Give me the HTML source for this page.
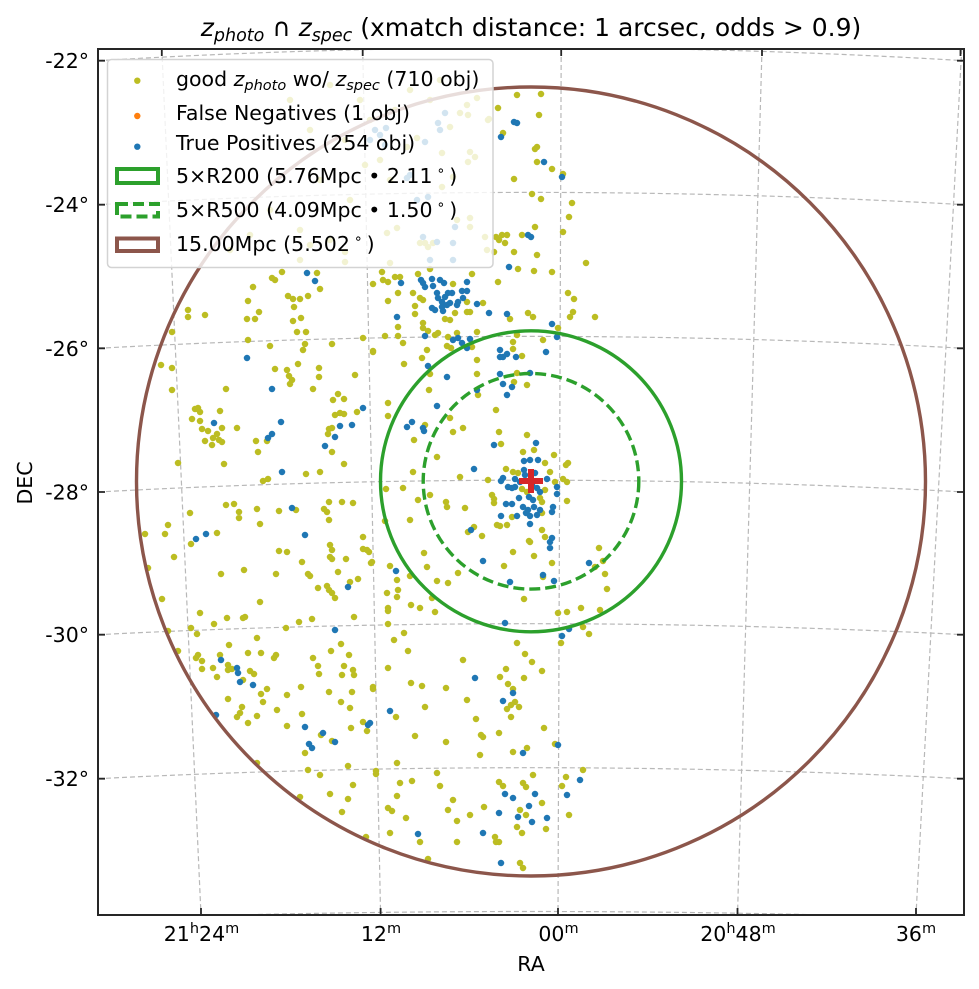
<!DOCTYPE html>
<html>
<head>
<meta charset="utf-8">
<style>
html,body{margin:0;padding:0;background:#fff;}
svg{display:block;}
text{fill:#000;}
</style>
</head>
<body>
<svg width="979" height="989" viewBox="0 0 979 989" xmlns="http://www.w3.org/2000/svg" font-family="'DejaVu Sans','Liberation Sans',sans-serif">
<defs><clipPath id="ax"><rect x="98" y="49" width="866" height="866"/></clipPath></defs>
<rect x="0" y="0" width="979" height="989" fill="#fff"/>
<g clip-path="url(#ax)">
<g fill="none" stroke="#b8b8b8" stroke-width="1.2" stroke-dasharray="5,3">
<path d="M98 60.7Q531 34.7 964 60.7"/>
<path d="M98 204.7Q531 180.1 964 204.7"/>
<path d="M98 348.3Q531 324.5 964 348.3"/>
<path d="M98 492Q531 468.4 964 492"/>
<path d="M98 634.7Q531 612.7 964 634.7"/>
<path d="M98 778.7Q531 756.7 964 778.7"/>
<path d="M98 919Q531 904 964 919"/>
<path d="M161.8 49L201 915"/>
<path d="M362.7 49L380.6 915"/>
<path d="M561.2 49L558 915"/>
<path d="M762 49L737.5 915"/>
<path d="M961.7 49L916 915"/>
</g>
<!-- olive points -->
<path fill="none" stroke="#bcbd22" stroke-width="6.5" stroke-linecap="round" d="
M253 287h.01M248 301h.01M272 278h.01M275 280h.01M282 272h.01M320 289h.01M317 273h.01M288 296h.01M293 299h.01M300 299h.01M308 296h.01M294 307h.01M188 310h.01M188 317h.01M205 315h.01M247 319h.01M255 319h.01M259 312h.01M293 321h.01M301 318h.01M297 332h.01M306 332h.01M172 332h.01M248 340h.01M270 346h.01M305 344h.01M303 350h.01M332 344h.01M363 338h.01M373 351h.01M298 364h.01M161 365h.01M172 368h.01M275 369h.01M287 370h.01M289 376h.01M292 380h.01M290 384h.01M319 368h.01M319 377h.01M355 375h.01M313 389h.01M226 389h.01M172 390h.01M338 394h.01M333 400h.01M344 399h.01M195 409h.01M198 408h.01M200 412h.01M220 411h.01M357 412h.01M335 415h.01M340 413h.01M344 414h.01M192 419h.01M200 421h.01M332 428h.01M202 429h.01M208 431h.01M217 434h.01M213 438h.01M219 440h.01M222 442h.01M237 428h.01M222 428h.01M267 441h.01M329 429h.01M328 434h.01M205 441h.01M212 445h.01M256 441h.01M258 452h.01M332 452h.01M178 463h.01M224 464h.01M344 464h.01M306 474h.01M320 472h.01M263 481h.01M268 479h.01M226 505h.01M234 504h.01M239 512h.01M239 518h.01M190 513h.01M257 509h.01M279 511h.01M296 510h.01M324 509h.01M329 502h.01M327 512h.01M329 520h.01M342 502h.01M353 503h.01M168 525h.01M165 534h.01M145 534h.01M260 524h.01M217 533h.01M191 544h.01M363 537h.01M367 550h.01M363 549h.01M369 552h.01M371 563h.01M330 545h.01M332 550h.01M330 557h.01M332 559h.01M279 551h.01M287 552h.01M174 557h.01M346 559h.01M302 562h.01M148 568h.01M244 570h.01M338 572h.01M221 574h.01M276 574h.01M308 574h.01M310 576h.01M350 582h.01M358 579h.01M318 588h.01M327 586h.01M329 590h.01M332 593h.01M335 598h.01M162 599h.01M260 602h.01M200 613h.01M227 618h.01M243 618h.01M245 617h.01M214 624h.01M191 628h.01M299 622h.01M312 619h.01M354 617h.01M286 628h.01M168 631h.01M197 634h.01M257 638h.01M229 645h.01M178 651h.01M198 655h.01M196 658h.01M202 661h.01M220 655h.01M248 653h.01M261 653h.01M276 655h.01M274 658h.01M341 644h.01M331 651h.01M313 658h.01M349 655h.01M228 665h.01M232 669h.01M228 670h.01M250 671h.01M254 674h.01M318 666h.01M319 674h.01M344 666h.01M353 670h.01M354 675h.01M342 675h.01M202 669h.01M213 668h.01M217 677h.01M267 689h.01M243 680h.01M301 687h.01M261 694h.01M263 702h.01M287 695h.01M329 692h.01M352 692h.01M373 689h.01M228 699h.01M341 702h.01M350 708h.01M277 710h.01M242 707h.01M240 713h.01M237 717h.01M257 716h.01M248 723h.01M302 714h.01M287 726h.01M363 722h.01M367 731h.01M351 728h.01M321 735h.01M332 741h.01M305 753h.01M257 763h.01M308 770h.01M320 775h.01M348 766h.01M376 774h.01M353 785h.01M330 794h.01M300 797h.01M348 799h.01M342 812h.01M366 837h.01
M517 95h.01M541 94h.01M498 108h.01M539 115h.01M489 119h.01M503 133h.01M537 147h.01M535 149h.01M537 162h.01M552 169h.01M563 174h.01M514 179h.01M532 194h.01M541 199h.01M572 203h.01M569 217h.01M535 227h.01M563 232h.01M522 235h.01M496 237h.01M502 235h.01M507 235h.01M505 243h.01M499 240h.01M494 252h.01M514 252h.01M537 255h.01M586 263h.01M518 269h.01M534 271h.01M552 272h.01M382 272h.01M383 280h.01M388 282h.01M395 277h.01M400 277h.01M418 274h.01M430 269h.01M453 284h.01M472 274h.01M498 282h.01M373 284h.01M388 301h.01M398 293h.01M413 293h.01M415 306h.01M420 298h.01M423 300h.01M467 302h.01M470 312h.01M467 312h.01M483 303h.01M415 314h.01M423 323h.01M445 319h.01M450 320h.01M455 313h.01M510 319h.01M533 317h.01M528 313h.01M568 293h.01M574 299h.01M573 312h.01M570 317h.01M595 317h.01M558 328h.01M398 327h.01M423 328h.01M428 331h.01M385 336h.01M398 336h.01M435 335h.01M438 333h.01M448 337h.01M457 333h.01M477 332h.01M447 346h.01M451 348h.01M472 347h.01M373 352h.01M403 343h.01M404 364h.01M422 358h.01M427 350h.01M430 374h.01M477 360h.01M477 374h.01M513 349h.01M522 356h.01M517 335h.01M513 342h.01M543 340h.01M514 382h.01M517 373h.01M527 385h.01M478 395h.01M429 390h.01M388 403h.01M388 416h.01M425 425h.01M414 440h.01M437 457h.01M413 472h.01
M496 410h.01M450 418h.01M453 432h.01M463 428h.01M499 432h.01M527 435h.01M501 444h.01M534 450h.01M523 452h.01M554 455h.01M545 463h.01M568 463h.01M566 465h.01M506 469h.01M513 472h.01M518 473h.01M550 472h.01M460 477h.01M488 480h.01M555 482h.01M563 479h.01M567 482h.01M522 489h.01M527 492h.01M545 490h.01M492 495h.01M494 499h.01M540 498h.01M542 502h.01M567 501h.01M446 502h.01M447 507h.01M465 508h.01M494 503h.01M512 517h.01M542 513h.01M497 525h.01M500 526h.01M507 525h.01M474 527h.01M482 536h.01M542 530h.01M545 537h.01M529 541h.01M468 532h.01M386 489h.01M403 488h.01M418 500h.01M385 521h.01M410 520h.01M430 495h.01
M372 562h.01M390 566h.01M397 580h.01M398 590h.01M397 597h.01M387 593h.01M424 553h.01M427 567h.01M410 576h.01M437 581h.01M448 583h.01M458 573h.01M504 566h.01M513 552h.01M530 542h.01M534 556h.01M552 563h.01M543 577h.01M524 599h.01M599 548h.01M595 567h.01M603 561h.01M605 574h.01M607 589h.01M388 608h.01M388 611h.01M411 605h.01M420 608h.01M435 612h.01M432 598h.01M558 613h.01M567 612h.01M581 608h.01M600 610h.01M388 624h.01M404 633h.01M394 640h.01M408 651h.01M561 643h.01M583 627h.01M589 634h.01M517 643h.01M525 654h.01M532 662h.01M542 671h.01M463 660h.01M388 668h.01M506 669h.01M500 677h.01M524 678h.01M373 687h.01M411 683h.01M422 686h.01M446 688h.01M508 684h.01M513 689h.01M515 702h.01M511 705h.01M507 709h.01M519 707h.01M511 717h.01M467 700h.01M425 707h.01M396 717h.01M476 719h.01M544 728h.01M499 733h.01M481 735h.01M483 737h.01M415 736h.01M446 742h.01M555 744h.01M527 748h.01M513 752h.01M480 755h.01M397 763h.01M376 771h.01M583 770h.01M566 777h.01M562 786h.01M533 775h.01M499 782h.01M503 786h.01M523 783h.01M526 787h.01M437 773h.01M412 781h.01M400 783h.01M440 786h.01M397 796h.01M453 800h.01M542 803h.01M520 810h.01M526 815h.01M484 807h.01M448 810h.01M388 808h.01M392 811h.01M406 818h.01M470 815h.01M457 821h.01M569 815h.01M517 827h.01M522 833h.01M546 829h.01M390 833h.01M495 837h.01M496 842h.01M499 842h.01M420 842h.01M457 842h.01M428 859h.01M520 863h.01M523 868h.01
M467 105h.01M477 98h.01M460 113h.01M468 115h.01M450 127h.01M488 120h.01M470 152h.01M475 157h.01M468 162h.01M442 153h.01M417 138h.01M407 147h.01M453 177h.01M442 187h.01M380 160h.01M390 180h.01M457 220h.01M470 218h.01M470 227h.01M387 233h.01M397 228h.01M425 243h.01M420 243h.01M428 247h.01M433 243h.01M485 237h.01M487 250h.01M390 263h.01M310 245h.01M330 240h.01M345 252h.01M300 230h.01M350 200h.01M320 180h.01M370 120h.01M395 110h.01M360 100h.01M345 140h.01M365 165h.01M310 130h.01M270 210h.01M250 235h.01M300 260h.01M230 250h.01M345 262h.01M410 90h.01M430 100h.01M440 80h.01M330 85h.01M290 100h.01"/>
<!-- blue points -->
<path fill="none" stroke="#1f77b4" stroke-width="6.5" stroke-linecap="round" d="
M307 273h.01M315 281h.01M247 358h.01M272 389h.01M363 408h.01M214 423h.01M281 422h.01M352 425h.01M340 426h.01M272 434h.01M268 438h.01M335 437h.01M325 446h.01M282 472h.01M292 508h.01M206 534h.01M196 539h.01M305 535h.01M348 587h.01M335 630h.01M221 660h.01M237 668h.01M238 673h.01M240 682h.01M253 685h.01M216 715h.01M305 727h.01M368 725h.01M323 733h.01M335 742h.01M309 744h.01M312 748h.01
M514 122h.01M517 123h.01M501 137h.01M544 162h.01M562 177h.01M528 235h.01M531 237h.01M509 267h.01M401 283h.01M421 280h.01M423 283h.01M425 287h.01M432 279h.01M433 286h.01M440 280h.01M444 283h.01M467 282h.01M462 291h.01M467 291h.01M477 304h.01M397 317h.01M489 313h.01M507 314h.01M552 324h.01M557 337h.01M425 336h.01M453 340h.01M458 338h.01M462 343h.01M467 348h.01M470 339h.01M500 350h.01M503 357h.01M500 357h.01M507 354h.01M516 357h.01M546 352h.01M428 366h.01M447 377h.01M500 374h.01M503 384h.01M507 395h.01M512 387h.01M530 373h.01M477 390h.01M437 406h.01M412 422h.01M407 427h.01M423 428h.01M424 431h.01
M437 293h.01M438 298h.01M442 302h.01M445 297h.01M447 305h.01M442 307h.01M435 310h.01M432 308h.01M443 311h.01M450 303h.01M457 305h.01M458 302h.01M463 298h.01M452 293h.01M448 293h.01
M494 445h.01M536 443h.01M524 461h.01M530 460h.01M538 460h.01M474 469h.01M501 481h.01M503 478h.01M515 479h.01M525 475h.01M535 473h.01M547 479h.01M508 487h.01M512 488h.01M515 487h.01M532 485h.01M537 488h.01M557 487h.01M557 494h.01M519 498h.01M529 497h.01M533 500h.01M506 504h.01M512 504h.01M523 507h.01M528 510h.01M534 507h.01M540 510h.01M553 507h.01M552 512h.01M501 516h.01M517 516h.01M526 513h.01M530 516h.01M537 515h.01M530 524h.01M471 530h.01M552 538h.01M520 482h.01M524 470h.01M540 492h.01
M396 571h.01M483 561h.01M550 542h.01M550 548h.01M589 563h.01M543 575h.01M554 581h.01M510 582h.01M505 623h.01M562 636h.01M569 629h.01M475 678h.01M513 693h.01M503 701h.01M390 711h.01M370 723h.01M558 745h.01M523 753h.01M580 780h.01M567 795h.01M535 794h.01M505 794h.01M513 798h.01M529 806h.01M518 817h.01M499 813h.01M532 822h.01M547 818h.01M418 834h.01M483 833h.01M501 863h.01
M445 113h.01M438 123h.01M440 130h.01M425 142h.01M410 175h.01M407 178h.01M428 197h.01M417 200h.01M455 227h.01M423 237h.01M437 242h.01M453 243h.01M453 260h.01M430 260h.01M375 130h.01M380 135h.01M386 128h.01M370 140h.01M385 145h.01"/>
<!-- circles -->
<circle cx="531" cy="481.5" r="394.5" fill="none" stroke="#8c564b" stroke-width="3.4"/>
<circle cx="531" cy="481.3" r="150.5" fill="none" stroke="#2ca02c" stroke-width="3.4"/>
<circle cx="531" cy="481.3" r="107.8" fill="none" stroke="#2ca02c" stroke-width="3.4" stroke-dasharray="11,5"/>
<path d="M519 481H543M531 469V493" stroke="#d62728" stroke-width="6" fill="none"/>
</g>
<!-- legend -->
<rect x="107.5" y="59.5" width="385.5" height="208" rx="4" ry="4" fill="#fff" fill-opacity="0.8" stroke="#d3d3d3" stroke-width="1.5"/>
<circle cx="137.3" cy="80.7" r="3.2" fill="#bcbd22"/>
<circle cx="137.3" cy="116" r="3.2" fill="#ff7f0e"/>
<circle cx="137.3" cy="146.7" r="3.2" fill="#1f77b4"/>
<rect x="117" y="169" width="41" height="14" fill="none" stroke="#2ca02c" stroke-width="4"/>
<rect x="117" y="204" width="41" height="12.5" fill="none" stroke="#2ca02c" stroke-width="4" stroke-dasharray="11,5"/>
<rect x="117" y="238.5" width="41" height="12.5" fill="none" stroke="#8c564b" stroke-width="4"/>
<g font-size="20.5">
<text x="176" y="86">good <tspan font-style="italic">z</tspan><tspan font-size="14.5" font-style="italic" dy="4">photo</tspan><tspan dy="-4"> wo/ </tspan><tspan font-style="italic">z</tspan><tspan font-size="14.5" font-style="italic" dy="4">spec</tspan><tspan dy="-4"> (710 obj)</tspan></text>
<text x="176" y="120">False Negatives (1 obj)</text>
<text x="176" y="150">True Positives (254 obj)</text>
<text x="176" y="183">5×R200 (5.76Mpc • 2.11<tspan font-size="14" dy="-8" dx="4">∘</tspan><tspan dy="8" dx="4">)</tspan></text>
<text x="176" y="217">5×R500 (4.09Mpc • 1.50<tspan font-size="14" dy="-8" dx="4">∘</tspan><tspan dy="8" dx="4">)</tspan></text>
<text x="176" y="251">15.00Mpc (5.502<tspan font-size="14" dy="-8" dx="4">∘</tspan><tspan dy="8" dx="4">)</tspan></text>
</g>
<!-- frame -->
<rect x="98" y="49" width="866" height="866" fill="none" stroke="#262626" stroke-width="2"/>
<g stroke="#262626" stroke-width="1.8" fill="none">
<path d="M98 60.7h7M98 204.7h7M98 348.3h7M98 492h7M98 634.7h7M98 778.7h7"/>
<path d="M964 60.7h-7M964 204.7h-7M964 348.3h-7M964 492h-7M964 634.7h-7M964 778.7h-7"/>
<path d="M201 915v-7M380.6 915v-7M558 915v-7M737.5 915v-7M916 915v-7"/>
<path d="M161.8 49v7M362.7 49v7M561.2 49v7M762 49v7M960.5 49v7"/>
</g>
<!-- tick labels -->
<g font-size="20.5" text-anchor="end">
<text x="89" y="68">-22°</text>
<text x="89" y="212">-24°</text>
<text x="89" y="356">-26°</text>
<text x="89" y="499.5">-28°</text>
<text x="89" y="642">-30°</text>
<text x="89" y="786">-32°</text>
</g>
<g font-size="20.5" text-anchor="middle">
<text x="201.5" y="941">21<tspan font-size="14.5" dy="-8">h</tspan><tspan dy="8">24</tspan><tspan font-size="14.5" dy="-8">m</tspan></text>
<text x="381" y="941">12<tspan font-size="14.5" dy="-8">m</tspan></text>
<text x="558.5" y="941">00<tspan font-size="14.5" dy="-8">m</tspan></text>
<text x="738" y="941">20<tspan font-size="14.5" dy="-8">h</tspan><tspan dy="8">48</tspan><tspan font-size="14.5" dy="-8">m</tspan></text>
<text x="916" y="941">36<tspan font-size="14.5" dy="-8">m</tspan></text>
<text x="531" y="971">RA</text>
<text transform="translate(32,483) rotate(-90)" x="0" y="0">DEC</text>
</g>
<!-- title -->
<text x="531" y="36" text-anchor="middle" font-size="25"><tspan font-style="italic">z</tspan><tspan font-size="17.5" font-style="italic" dy="5">photo</tspan><tspan dy="-5"> ∩ </tspan><tspan font-style="italic">z</tspan><tspan font-size="17.5" font-style="italic" dy="5">spec</tspan><tspan dy="-5"> (xmatch distance: 1 arcsec, odds &gt; 0.9)</tspan></text>
</svg>
</body>
</html>
